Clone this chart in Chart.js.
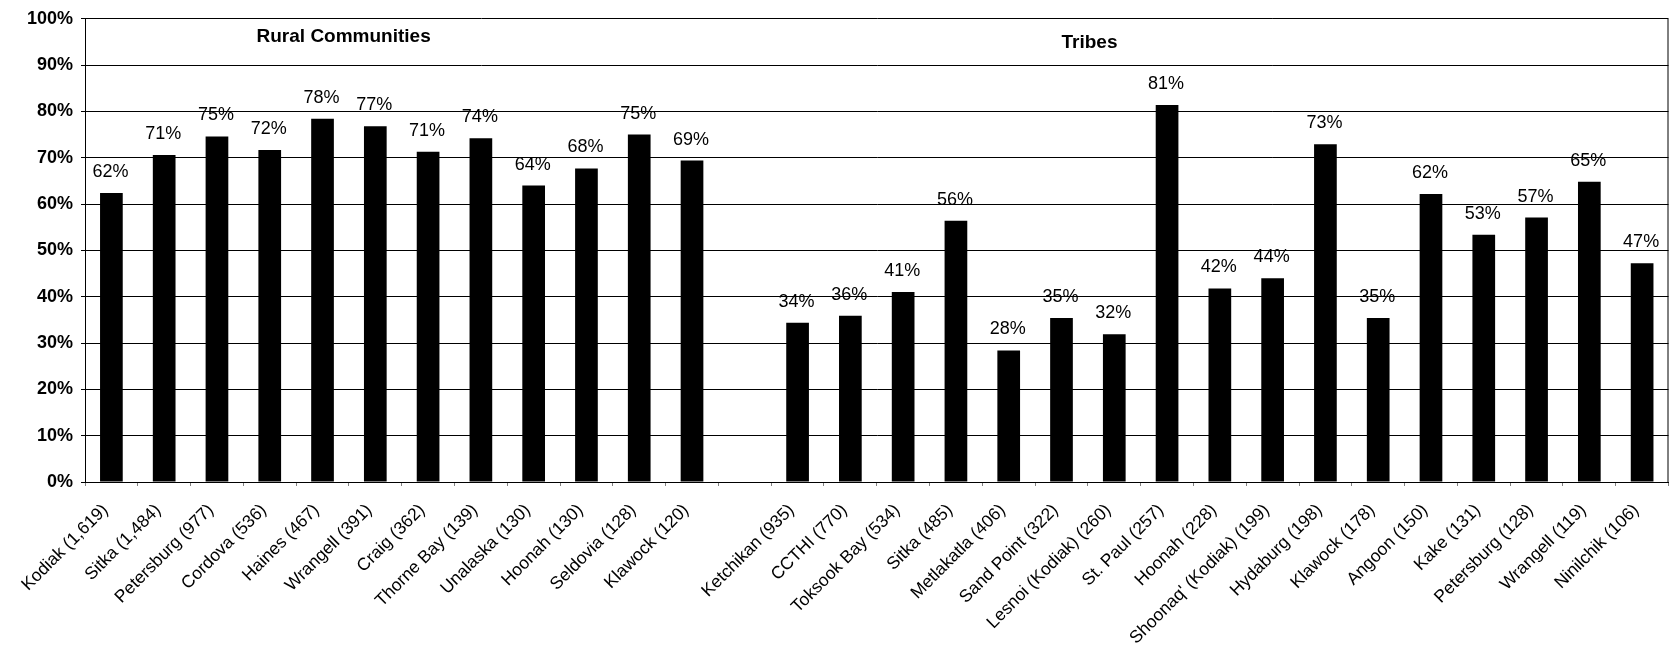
<!DOCTYPE html>
<html>
<head>
<meta charset="utf-8">
<script src="https://cdn.jsdelivr.net/npm/chart.js@4.4.1/dist/chart.umd.min.js"></script>
<style>
  body { margin: 0; background: #fff; }
  #wrap { width: 1671px; height: 659px; }
</style>
</head>
<body>
<div id="wrap"><canvas id="chart" width="1671" height="659"></canvas></div>
<script>
// rural communities (sample size in brackets)
const ruralLabels = ['Kodiak (1,619)', 'Sitka (1,484)', 'Petersburg (977)', 'Cordova (536)', 'Haines (467)',
  'Wrangell (391)', 'Craig (362)', 'Thorne Bay (139)', 'Unalaska (130)', 'Hoonah (130)', 'Seldovia (128)', 'Klawock (120)'];
const ruralValues = [62.4, 70.6, 74.6, 71.7, 78.4, 76.8, 71.3, 74.2, 64.0, 67.7, 75.0, 69.4];

// tribes
const tribeLabels = ['Ketchikan (935)', 'CCTHI (770)', 'Toksook Bay (534)', 'Sitka (485)', 'Metlakatla (406)',
  'Sand Point (322)', 'Lesnoi (Kodiak) (260)', 'St. Paul (257)', 'Hoonah (228)', "Shoonaq' (Kodiak) (199)",
  'Hydaburg (198)', 'Klawock (178)', 'Angoon (150)', 'Kake (131)', 'Petersburg (128)', 'Wrangell (119)', 'Ninilchik (106)'];
const tribeValues = [34.4, 35.9, 41.0, 56.4, 28.4, 35.4, 31.9, 81.4, 41.8, 44.0, 72.9, 35.4, 62.2, 53.4, 57.1, 64.8, 47.2];

const yTicks = [0, 10, 20, 30, 40, 50, 60, 70, 80, 90, 100];

// one empty category separates the two groups
const labels = [...ruralLabels, '', ...tribeLabels];
const values = [...ruralValues, null, ...tribeValues];

const FONT = '"Liberation Sans", Arial, sans-serif';

const barLabels = {
  id: 'barLabels',
  afterDatasetsDraw(chart) {
    const ctx = chart.ctx;
    const meta = chart.getDatasetMeta(0);
    ctx.save();
    ctx.font = '18px ' + FONT;
    ctx.fillStyle = '#000';
    ctx.textAlign = 'center';
    ctx.textBaseline = 'alphabetic';
    meta.data.forEach((bar, i) => {
      const v = values[i];
      if (v == null) return;
      ctx.fillText(Math.round(v) + '%', bar.x - 1, bar.y - 16);
    });
    ctx.restore();
  }
};

const groupTitles = {
  id: 'groupTitles',
  afterDraw(chart) {
    const ctx = chart.ctx;
    const x = chart.scales.x;
    const top = chart.chartArea.top;
    ctx.save();
    ctx.font = 'bold 19px ' + FONT;
    ctx.fillStyle = '#000';
    ctx.textAlign = 'center';
    ctx.textBaseline = 'middle';
    ctx.fillText('Rural Communities', x.getPixelForValue(4.4), top + 18);
    ctx.fillText('Tribes', x.getPixelForValue(18.53), top + 24);
    // right edge of plot frame
    ctx.strokeStyle = '#000';
    ctx.lineWidth = 1;
    ctx.beginPath();
    ctx.moveTo(chart.chartArea.right - 0.5, chart.chartArea.top);
    ctx.lineTo(chart.chartArea.right - 0.5, chart.chartArea.bottom);
    ctx.stroke();
    ctx.restore();
  }
};

new Chart(document.getElementById('chart'), {
  type: 'bar',
  data: {
    labels: labels,
    datasets: [{
      data: values,
      backgroundColor: '#000',
      borderWidth: 0,
      barPercentage: 0.43,
      categoryPercentage: 1
    }]
  },
  options: {
    responsive: false,
    animation: false,
    layout: { padding: { top: 14, right: 2, left: 0, bottom: 0 } },
    plugins: { legend: { display: false }, tooltip: { enabled: false } },
    scales: {
      x: {
        offset: true,
        grid: { offset: true, drawOnChartArea: false, drawTicks: true, tickLength: 4, color: '#808080' },
        border: { display: true, color: '#000', width: 1 },
        ticks: {
          autoSkip: false, minRotation: 45, maxRotation: 45, padding: 14, labelOffset: -6,
          color: '#000', font: { family: FONT, size: 17.5 }
        },
        afterFit(scale) { scale.height = 177; }
      },
      y: {
        min: 0, max: 100,
        afterBuildTicks(scale) { scale.ticks = yTicks.map(v => ({ value: v })); },
        grid: { color: '#000', lineWidth: 1, tickLength: 4 },
        border: { display: true, color: '#000', width: 1 },
        ticks: {
          padding: 8, color: '#000',
          font: { family: FONT, size: 18, weight: 'bold' },
          callback: v => v + '%'
        },
        afterFit(scale) { scale.width = 85; }
      }
    }
  },
  plugins: [barLabels, groupTitles]
});
</script>
</body>
</html>
